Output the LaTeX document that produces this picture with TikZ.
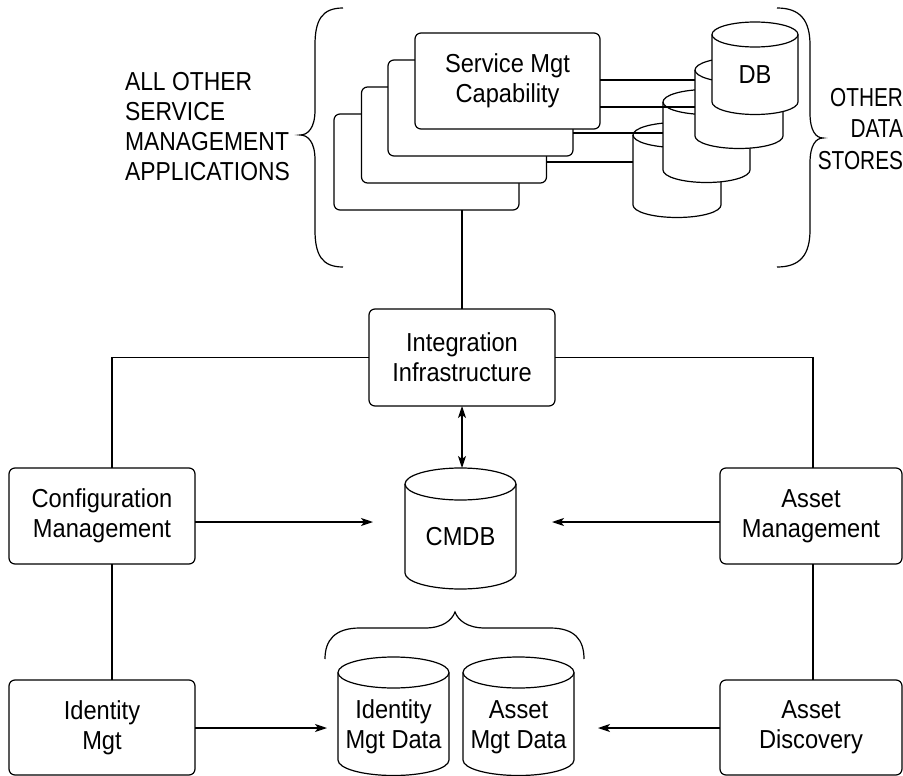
\documentclass[tikz,border=0pt]{standalone}
\usepackage{fontspec}
\setmainfont[FakeStretch=0.91]{Liberation Sans}
\newfontfamily\capsleft[FakeStretch=0.88]{Liberation Sans}
\newfontfamily\capsright[FakeStretch=0.80]{Liberation Sans}
\usetikzlibrary{arrows.meta,calc}

% cylinder outline: centre x, top-cap centre y, bottom-cap centre y, x radius, y radius
\newcommand\drawcyl[5]{%
  \filldraw[fill=white] ({#1-#4},#2) -- ({#1-#4},#3)
    arc[start angle=180,end angle=360,x radius=#4pt,y radius=#5pt]
    -- ({#1+#4},#2)
    arc[start angle=0,end angle=180,x radius=#4pt,y radius=#5pt] -- cycle;
  \draw ({#1-#4},#2) arc[start angle=180,end angle=360,x radius=#4pt,y radius=#5pt];
}

\begin{document}
\begin{tikzpicture}[x=1pt,y=1pt,line width=1.2pt,
  every node/.style={font=\fontsize{26}{30}\selectfont,inner sep=0pt,outer sep=0pt},
  box/.style={draw,fill=white,rounded corners=6pt,align=center},
  stackbox/.style={box,minimum width=185pt,minimum height=96pt},
  sidebox/.style={box,minimum width=186pt,minimum height=96pt},
  cylbody/.style={minimum height=10pt},
  arr/.style={-{Stealth[length=12pt,width=8pt,inset=3pt]}},
  darr/.style={{Stealth[length=12pt,width=8pt,inset=3pt]}-{Stealth[length=12pt,width=8pt,inset=3pt]}}]

\useasboundingbox (0,0) rectangle (903,-776);

% service management capability stack, back to front
\node[stackbox] (svcD) at (426.5,-162) {};
\node[stackbox] (svcC) at (454,-135) {};
\node[stackbox] (svcB) at (480.5,-108) {};
\node[stackbox] (svcA) at (507.5,-81) {Service Mgt\\Capability};

% data store stack, back to front
\drawcyl{677}{-135}{-205}{44}{12.5}
\drawcyl{706.5}{-102}{-170}{43.5}{12.5}
\drawcyl{739}{-70}{-136}{44}{12.5}
\drawcyl{755}{-34.5}{-102}{43}{12.5}
\node[cylbody,minimum width=88pt] (cylD) at (677,-170) {};
\node[cylbody,minimum width=87pt] (cylC) at (706.5,-136) {};
\node[cylbody,minimum width=88pt] (cylB) at (739,-103) {};
\node (db) at (755,-74.5) {DB};

% links from capabilities to data stores
\draw ([yshift=1pt]svcA.east) -- ([yshift=1pt]svcA.east -| cylB.west);
\draw ([yshift=-26pt]svcA.east) -- ([yshift=-26pt]svcA.east -| cylB.west);
\draw ([yshift=-25pt]svcB.east) -- ([yshift=-25pt]svcB.east -| cylC.west);
\draw ([yshift=-27pt]svcC.east) -- ([yshift=-27pt]svcC.east -| cylD.west);

% braces and their labels
\draw (343,-8) .. controls (322,-8) and (315,-20) .. (315,-45) -- (315,-110)
  .. controls (315,-128) and (308,-135) .. (300,-135)
  .. controls (308,-135) and (315,-142) .. (315,-160) -- (315,-230)
  .. controls (315,-255) and (322,-267) .. (343,-267);
\draw (777,-8) .. controls (800,-8) and (810,-20) .. (810,-45) -- (810,-113)
  .. controls (810,-131) and (816,-138) .. (823,-138)
  .. controls (816,-138) and (810,-145) .. (810,-163) -- (810,-230)
  .. controls (810,-255) and (800,-267) .. (777,-267);
\node[anchor=west,align=left,font=\capsleft\fontsize{26}{30}\selectfont] (apps) at (125,-127)
  {ALL OTHER\\SERVICE\\MANAGEMENT\\APPLICATIONS};
\node[anchor=east,align=right,font=\capsright\fontsize{26}{31.5}\selectfont] (stores) at (903,-129)
  {OTHER\\DATA\\STORES};

% integration layer
\node[box,minimum width=186pt,minimum height=97pt] (integ) at (462,-357.5) {Integration\\Infrastructure};

% side applications
\node[sidebox] (conf) at (102,-516) {Configuration\\Management};
\node[sidebox,minimum height=95pt] (ident) at (102,-727.5) {Identity\\Mgt};
\node[sidebox,minimum width=182pt] (asset) at (811,-516) {Asset\\Management};
\node[sidebox,minimum width=182pt,minimum height=95pt] (disc) at (811,-727.5) {Asset\\Discovery};

% CMDB
\drawcyl{460.5}{-484}{-573}{55.5}{16}
\node (cmdb) at (460.5,-537) {CMDB};
\coordinate (cmdbtop) at (460.5,-468);
\coordinate (cmdbL) at (373,-522);
\coordinate (cmdbR) at (552,-522);

% federated data stores
\drawcyl{393.5}{-672.5}{-760}{55.5}{15.5}
\drawcyl{518.5}{-672.5}{-760}{55.5}{15.5}
\node[align=center] (idd) at (393.5,-727) {Identity\\Mgt Data};
\node[align=center] (asd) at (518.5,-727) {Asset\\Mgt Data};
\coordinate (datL) at (327,-728);
\coordinate (datR) at (598,-728);
\draw (325,-659) .. controls (325,-640) and (335,-628) .. (360,-628) -- (425,-628)
  .. controls (443,-628) and (452,-620) .. (455,-612)
  .. controls (458,-620) and (467,-628) .. (485,-628) -- (550,-628)
  .. controls (575,-628) and (584,-640) .. (584,-659);

% connectors
\draw (integ.north) -- (integ.north |- svcD.south);
\draw (integ.west) -| ([xshift=10pt]conf.north);
\draw (integ.east) -| ([xshift=2pt]asset.north);
\draw ([xshift=10pt]conf.south) -- ([xshift=10pt]ident.north);
\draw ([xshift=2pt]asset.south) -- ([xshift=2pt]disc.north);
\draw[darr] (integ.south) -- (integ.south |- cmdbtop);
\draw[arr] (conf.east |- cmdbL) -- (cmdbL);
\draw[arr] (asset.west |- cmdbR) -- (cmdbR);
\draw[arr] (ident.east |- datL) -- (datL);
\draw[arr] (disc.west |- datR) -- (datR);
\end{tikzpicture}
\end{document}
